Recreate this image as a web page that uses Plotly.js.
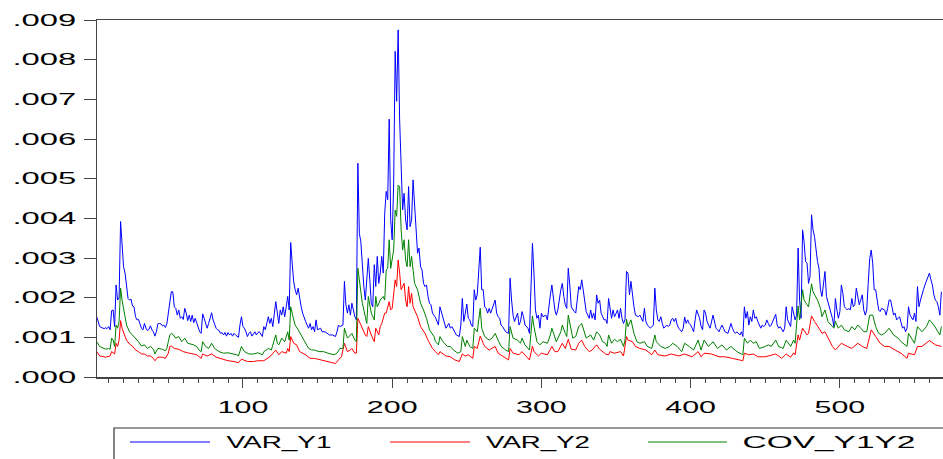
<!DOCTYPE html>
<html>
<head>
<meta charset="utf-8">
<script src="https://cdn.plot.ly/plotly-3.0.1.min.js"></script>
<style>
  html, body { margin: 0; padding: 0; background: #ffffff; }
  #chart { width: 943px; height: 459px; }
</style>
</head>
<body>
<div id="chart"></div>
<script>
const xVarY1 = [2,3,4,5,6,7,8,9,10,11,12,13,14,15,16,17,18,19,20,21,22,23,24,25,26,27,28,29,30,31,32,33,34,35,36,37,38,39,40,41,42,43,44,45,46,47,48,49,50,51,52,53,54,55,56,57,58,59,60,61,62,63,64,65,66,67,68,69,70,71,72,73,74,75,76,77,78,79,80,81,82,83,84,85,86,87,88,89,90,91,92,93,94,95,96,97,98,99,100,101,102,103,104,105,106,107,108,109,110,111,112,113,114,115,117,118,119,120,122,123,124,125,126,127,128,129,130,131,132,133,134,135,136,137,138,139,140,141,142,143,144,145,146,147,148,149,150,152,153,155,157,158,160,162,163,164,165,167,168,169,170,171,172,173,175,176,177,178,179,180,181,182,184,185,186,187,188,189,190,191,192,193,194,195,196,197,198,199,200,201,202,203,204,205,206,207,208,209,210,211,212,213,214,215,216,217,218,219,220,221,222,223,224,225,226,227,229,231,232,234,235,236,238,239,240,242,243,245,246,247,248,249,250,251,252,253,254,255,256,257,259,260,261,262,263,264,265,266,267,269,270,271,272,273,274,275,276,278,279,280,281,282,284,285,286,287,288,289,290,291,292,294,295,296,297,298,299,300,301,303,304,305,306,307,308,309,310,311,313,314,315,316,317,318,319,320,322,323,324,325,326,327,328,329,330,332,333,334,335,336,337,338,339,340,342,343,344,345,347,348,349,350,351,352,353,354,355,356,357,358,359,360,361,362,363,365,366,367,368,369,370,371,372,373,375,376,377,378,379,380,381,382,384,385,386,387,388,389,390,391,392,394,395,396,397,398,399,400,401,402,403,404,406,407,408,409,410,411,412,413,415,416,417,418,419,420,421,422,423,425,426,427,428,429,430,431,433,434,435,436,437,438,439,440,441,442,443,444,445,447,448,449,450,451,452,453,454,455,457,458,459,460,461,462,463,464,465,467,468,469,470,471,472,473,474,475,476,477,478,479,480,481,482,483,484,485,486,487,488,489,490,491,493,494,495,496,497,498,499,500,501,502,503,505,506,507,508,509,510,511,512,513,515,516,517,518,519,520,521,522,523,524,525,526,527,528,530,531,532,533,534,535,536,537,538,540,541,542,543,544,545,546,547,549,550,551,552,553,554,555,556,557,559,560,561,562,563,564,565,566,567,568];
const valVarY1 = [0.00152,0.00140,0.00127,0.00125,0.00123,0.00122,0.00124,0.00122,0.00127,0.00119,0.00167,0.00169,0.00127,0.00232,0.00194,0.00200,0.00392,0.00337,0.00278,0.00262,0.00220,0.00198,0.00194,0.00196,0.00179,0.00177,0.00152,0.00144,0.00145,0.00131,0.00123,0.00119,0.00135,0.00123,0.00117,0.00120,0.00129,0.00119,0.00114,0.00103,0.00114,0.00134,0.00135,0.00134,0.00129,0.00131,0.00125,0.00134,0.00161,0.00194,0.00215,0.00215,0.00177,0.00173,0.00156,0.00169,0.00148,0.00152,0.00145,0.00173,0.00161,0.00142,0.00156,0.00140,0.00156,0.00137,0.00148,0.00137,0.00123,0.00114,0.00110,0.00159,0.00148,0.00137,0.00123,0.00135,0.00148,0.00162,0.00144,0.00131,0.00123,0.00119,0.00117,0.00110,0.00112,0.00106,0.00112,0.00103,0.00112,0.00106,0.00110,0.00103,0.00110,0.00106,0.00102,0.00100,0.00131,0.00152,0.00127,0.00123,0.00114,0.00102,0.00110,0.00114,0.00103,0.00110,0.00114,0.00106,0.00112,0.00114,0.00106,0.00102,0.00127,0.00119,0.00152,0.00135,0.00148,0.00127,0.00190,0.00161,0.00135,0.00169,0.00156,0.00177,0.00152,0.00177,0.00203,0.00169,0.00339,0.00287,0.00240,0.00220,0.00207,0.00224,0.00198,0.00177,0.00161,0.00148,0.00140,0.00131,0.00123,0.00135,0.00119,0.00127,0.00114,0.00144,0.00119,0.00123,0.00114,0.00114,0.00110,0.00106,0.00106,0.00102,0.00114,0.00131,0.00127,0.00131,0.00241,0.00182,0.00161,0.00182,0.00156,0.00186,0.00152,0.00144,0.00539,0.00362,0.00341,0.00278,0.00228,0.00194,0.00299,0.00245,0.00186,0.00177,0.00283,0.00228,0.00304,0.00236,0.00262,0.00304,0.00262,0.00413,0.00468,0.00447,0.00650,0.00396,0.00346,0.00489,0.00821,0.00695,0.00875,0.00648,0.00497,0.00421,0.00463,0.00396,0.00371,0.00480,0.00379,0.00396,0.00497,0.00430,0.00362,0.00312,0.00325,0.00278,0.00270,0.00236,0.00228,0.00232,0.00203,0.00186,0.00182,0.00161,0.00150,0.00131,0.00177,0.00148,0.00140,0.00123,0.00135,0.00123,0.00127,0.00110,0.00106,0.00102,0.00131,0.00198,0.00140,0.00161,0.00184,0.00148,0.00144,0.00131,0.00127,0.00220,0.00194,0.00207,0.00327,0.00220,0.00220,0.00177,0.00173,0.00161,0.00173,0.00161,0.00173,0.00194,0.00161,0.00152,0.00148,0.00131,0.00127,0.00119,0.00114,0.00110,0.00249,0.00194,0.00156,0.00140,0.00161,0.00131,0.00140,0.00165,0.00152,0.00131,0.00127,0.00123,0.00110,0.00337,0.00262,0.00169,0.00148,0.00156,0.00123,0.00161,0.00152,0.00156,0.00144,0.00186,0.00207,0.00232,0.00203,0.00169,0.00156,0.00169,0.00220,0.00236,0.00203,0.00182,0.00173,0.00274,0.00232,0.00177,0.00165,0.00161,0.00194,0.00228,0.00220,0.00245,0.00220,0.00194,0.00165,0.00148,0.00169,0.00148,0.00161,0.00144,0.00207,0.00186,0.00194,0.00161,0.00144,0.00145,0.00135,0.00198,0.00148,0.00169,0.00152,0.00160,0.00169,0.00148,0.00173,0.00148,0.00135,0.00144,0.00266,0.00262,0.00207,0.00241,0.00203,0.00177,0.00156,0.00152,0.00156,0.00148,0.00140,0.00173,0.00140,0.00131,0.00127,0.00123,0.00131,0.00224,0.00169,0.00144,0.00140,0.00152,0.00135,0.00123,0.00131,0.00127,0.00131,0.00144,0.00148,0.00140,0.00148,0.00131,0.00123,0.00114,0.00123,0.00151,0.00135,0.00144,0.00135,0.00131,0.00123,0.00114,0.00144,0.00169,0.00148,0.00127,0.00119,0.00169,0.00161,0.00140,0.00131,0.00123,0.00156,0.00140,0.00123,0.00119,0.00114,0.00123,0.00131,0.00123,0.00114,0.00110,0.00123,0.00135,0.00123,0.00114,0.00110,0.00114,0.00106,0.00114,0.00102,0.00177,0.00148,0.00165,0.00131,0.00152,0.00140,0.00169,0.00148,0.00152,0.00140,0.00123,0.00131,0.00127,0.00131,0.00144,0.00135,0.00127,0.00131,0.00140,0.00158,0.00131,0.00123,0.00127,0.00119,0.00114,0.00123,0.00177,0.00144,0.00127,0.00177,0.00156,0.00144,0.00156,0.00325,0.00194,0.00148,0.00371,0.00341,0.00291,0.00287,0.00236,0.00253,0.00409,0.00371,0.00354,0.00320,0.00291,0.00274,0.00220,0.00203,0.00232,0.00266,0.00203,0.00177,0.00161,0.00148,0.00127,0.00198,0.00169,0.00148,0.00165,0.00232,0.00211,0.00177,0.00169,0.00173,0.00169,0.00198,0.00177,0.00182,0.00224,0.00207,0.00182,0.00207,0.00169,0.00156,0.00169,0.00236,0.00299,0.00320,0.00287,0.00220,0.00220,0.00194,0.00169,0.00165,0.00173,0.00169,0.00156,0.00173,0.00194,0.00194,0.00169,0.00156,0.00161,0.00144,0.00152,0.00135,0.00123,0.00127,0.00114,0.00123,0.00177,0.00156,0.00144,0.00161,0.00140,0.00228,0.00177,0.00194,0.00211,0.00220,0.00232,0.00249,0.00262,0.00245,0.00232,0.00207,0.00194,0.00190,0.00177,0.00156,0.00215];

const xVarY2 = [2,4,8,11,12,14,15,16,17,18,19,20,21,22,24,26,28,30,32,34,36,38,40,41,43,46,48,50,51,52,54,57,60,63,66,69,72,73,76,79,82,86,90,94,97,99,103,107,110,114,115,118,122,124,126,129,130,131,132,134,136,138,142,145,148,153,157,162,164,166,168,170,172,173,175,176,177,179,180,182,183,184,186,188,189,191,192,193,195,196,198,199,200,201,202,203,204,205,206,208,209,210,211,212,213,214,216,217,219,222,224,227,229,231,232,236,239,242,245,247,249,251,254,255,257,259,261,262,265,269,271,275,278,279,281,285,287,290,292,294,295,298,300,304,307,309,311,314,316,318,320,323,325,327,329,332,334,337,339,343,345,346,349,353,355,357,358,361,363,366,370,374,376,378,383,387,392,396,401,405,407,409,414,419,423,428,432,435,436,439,442,445,450,454,457,461,464,467,469,470,472,473,475,478,479,481,483,486,488,490,492,495,497,499,501,505,508,512,515,518,521,524,527,530,533,537,541,545,546,550,552,555,560,564,568];
const valVarY2 = [0.00064,0.00053,0.00050,0.00053,0.00064,0.00058,0.00085,0.00077,0.00093,0.00142,0.00123,0.00110,0.00102,0.00093,0.00083,0.00078,0.00068,0.00064,0.00058,0.00058,0.00053,0.00053,0.00047,0.00041,0.00050,0.00050,0.00047,0.00060,0.00077,0.00078,0.00072,0.00070,0.00064,0.00061,0.00058,0.00056,0.00047,0.00058,0.00053,0.00058,0.00050,0.00045,0.00041,0.00039,0.00036,0.00045,0.00039,0.00039,0.00041,0.00041,0.00043,0.00051,0.00068,0.00056,0.00064,0.00060,0.00072,0.00064,0.00102,0.00085,0.00081,0.00064,0.00056,0.00047,0.00047,0.00043,0.00039,0.00034,0.00043,0.00051,0.00085,0.00064,0.00068,0.00072,0.00060,0.00060,0.00148,0.00131,0.00123,0.00106,0.00102,0.00127,0.00106,0.00089,0.00123,0.00106,0.00127,0.00135,0.00161,0.00161,0.00190,0.00169,0.00173,0.00207,0.00245,0.00228,0.00295,0.00262,0.00220,0.00236,0.00194,0.00177,0.00228,0.00186,0.00211,0.00177,0.00161,0.00152,0.00127,0.00110,0.00093,0.00072,0.00064,0.00056,0.00064,0.00053,0.00051,0.00043,0.00039,0.00058,0.00053,0.00056,0.00047,0.00077,0.00072,0.00103,0.00085,0.00077,0.00068,0.00077,0.00060,0.00051,0.00043,0.00072,0.00060,0.00056,0.00064,0.00051,0.00043,0.00078,0.00064,0.00053,0.00060,0.00056,0.00077,0.00064,0.00064,0.00085,0.00072,0.00095,0.00070,0.00068,0.00085,0.00093,0.00077,0.00064,0.00068,0.00081,0.00070,0.00058,0.00056,0.00064,0.00060,0.00064,0.00053,0.00102,0.00093,0.00089,0.00077,0.00072,0.00068,0.00056,0.00068,0.00056,0.00053,0.00058,0.00053,0.00058,0.00051,0.00064,0.00051,0.00060,0.00058,0.00051,0.00051,0.00047,0.00043,0.00041,0.00060,0.00056,0.00058,0.00051,0.00051,0.00056,0.00058,0.00047,0.00058,0.00050,0.00061,0.00056,0.00106,0.00093,0.00123,0.00106,0.00110,0.00154,0.00140,0.00123,0.00110,0.00114,0.00098,0.00077,0.00068,0.00077,0.00085,0.00077,0.00072,0.00085,0.00077,0.00072,0.00119,0.00102,0.00085,0.00077,0.00077,0.00068,0.00060,0.00047,0.00060,0.00056,0.00077,0.00077,0.00092,0.00081,0.00077];

const xCovY1Y2 = [2,4,8,10,11,12,13,14,15,16,17,18,19,20,21,22,24,26,28,30,32,34,36,38,40,41,43,46,48,49,50,51,52,53,55,57,59,61,63,65,67,69,71,72,73,75,77,79,81,84,87,90,93,96,97,99,101,104,107,110,113,114,117,119,122,123,124,126,128,130,131,132,134,135,137,140,142,144,146,148,151,154,157,161,163,165,167,168,170,172,173,175,176,177,179,180,182,183,184,186,188,189,190,192,194,195,196,197,198,199,201,202,203,204,205,206,207,208,209,210,211,212,213,214,215,217,219,221,223,225,228,229,231,232,234,237,239,241,244,246,247,249,250,252,254,255,257,259,260,262,265,267,269,271,273,276,278,279,281,284,286,287,289,292,294,295,297,299,301,304,306,307,309,310,313,314,316,317,318,320,321,323,325,327,329,330,333,335,337,339,341,343,344,345,347,349,351,353,355,356,357,358,360,362,364,366,369,371,374,376,377,380,383,386,388,391,394,396,399,402,405,407,409,412,415,418,421,424,427,431,434,435,436,438,440,442,444,446,450,452,454,457,459,462,464,467,469,470,472,473,475,476,478,479,481,482,485,487,488,490,492,495,496,497,499,501,503,506,508,510,512,514,516,518,520,522,524,526,528,530,533,536,539,541,545,546,549,550,552,555,558,560,563,566,567,568];
const valCovY1Y2 = [0.00089,0.00077,0.00070,0.00072,0.00070,0.00098,0.00093,0.00077,0.00131,0.00123,0.00140,0.00224,0.00194,0.00169,0.00148,0.00131,0.00114,0.00106,0.00098,0.00089,0.00078,0.00081,0.00072,0.00077,0.00070,0.00058,0.00072,0.00070,0.00066,0.00072,0.00089,0.00106,0.00110,0.00108,0.00098,0.00102,0.00089,0.00098,0.00085,0.00083,0.00081,0.00077,0.00066,0.00064,0.00089,0.00077,0.00072,0.00085,0.00072,0.00064,0.00060,0.00061,0.00058,0.00056,0.00053,0.00077,0.00064,0.00058,0.00058,0.00061,0.00056,0.00064,0.00072,0.00068,0.00106,0.00085,0.00081,0.00098,0.00089,0.00114,0.00093,0.00177,0.00144,0.00131,0.00119,0.00098,0.00085,0.00072,0.00068,0.00068,0.00064,0.00064,0.00060,0.00056,0.00060,0.00072,0.00072,0.00123,0.00098,0.00106,0.00110,0.00093,0.00089,0.00274,0.00211,0.00186,0.00152,0.00135,0.00203,0.00161,0.00144,0.00203,0.00177,0.00194,0.00203,0.00194,0.00270,0.00274,0.00346,0.00274,0.00320,0.00421,0.00405,0.00484,0.00480,0.00371,0.00320,0.00346,0.00295,0.00278,0.00346,0.00278,0.00304,0.00270,0.00236,0.00220,0.00186,0.00169,0.00148,0.00119,0.00102,0.00089,0.00081,0.00102,0.00089,0.00077,0.00077,0.00068,0.00060,0.00064,0.00102,0.00077,0.00093,0.00077,0.00072,0.00123,0.00114,0.00173,0.00123,0.00102,0.00093,0.00098,0.00110,0.00093,0.00077,0.00068,0.00064,0.00127,0.00098,0.00093,0.00085,0.00098,0.00081,0.00068,0.00154,0.00127,0.00089,0.00081,0.00089,0.00085,0.00106,0.00123,0.00102,0.00089,0.00114,0.00131,0.00110,0.00102,0.00156,0.00114,0.00098,0.00102,0.00127,0.00135,0.00114,0.00098,0.00106,0.00093,0.00114,0.00106,0.00089,0.00085,0.00077,0.00106,0.00085,0.00095,0.00089,0.00095,0.00077,0.00093,0.00146,0.00127,0.00144,0.00110,0.00089,0.00085,0.00089,0.00077,0.00072,0.00106,0.00089,0.00077,0.00072,0.00077,0.00085,0.00077,0.00064,0.00085,0.00077,0.00068,0.00093,0.00068,0.00093,0.00077,0.00089,0.00072,0.00081,0.00068,0.00077,0.00064,0.00058,0.00056,0.00098,0.00085,0.00093,0.00085,0.00089,0.00072,0.00077,0.00081,0.00077,0.00093,0.00077,0.00072,0.00093,0.00077,0.00093,0.00085,0.00179,0.00144,0.00220,0.00194,0.00182,0.00177,0.00235,0.00215,0.00194,0.00173,0.00152,0.00169,0.00140,0.00127,0.00123,0.00140,0.00123,0.00131,0.00119,0.00114,0.00127,0.00119,0.00131,0.00123,0.00114,0.00114,0.00156,0.00156,0.00127,0.00110,0.00106,0.00110,0.00123,0.00106,0.00098,0.00089,0.00077,0.00110,0.00093,0.00085,0.00127,0.00114,0.00127,0.00144,0.00131,0.00114,0.00106,0.00127];

const seriesNames = ['VAR_Y1', 'VAR_Y2', 'COV_Y1Y2'];
const seriesColors = ['#0000ff', '#ff0000', '#008000'];
const yTickVals = [0, 0.001, 0.002, 0.003, 0.004, 0.005, 0.006, 0.007, 0.008, 0.009];
const yTickText = ['.000', '.001', '.002', '.003', '.004', '.005', '.006', '.007', '.008', '.009'];

// ---- figure ----
const xs = [xVarY1, xVarY2, xCovY1Y2];
const ys = [valVarY1, valVarY2, valCovY1Y2];
const traces = seriesNames.map((n, i) => ({
  x: xs[i], y: ys[i], name: n, type: 'scatter', mode: 'lines',
  line: { color: seriesColors[i], width: 1 }, showlegend: false, hoverinfo: 'skip'
}));

const axisFont = { family: 'Liberation Sans, Arial, sans-serif', size: 16, color: '#000' };
const W = 943, H = 459, ML = 97, MR = 0, MT = 20, MB = 82;
const pw = W - ML - MR, ph = H - MT - MB;
const px2x = p => (p - ML) / pw;
const py2y = p => (H - MB - p) / ph;

// hand-drawn legend (box cut at the right/bottom edge like the reference)
const legLine = [[130, 210], [390, 470], [648, 727]];
const legTextSpan = [[226, 331], [486, 590], [742, 915]];
const legY = 442;
const shapes = [{
  type: 'rect', xref: 'paper', yref: 'paper',
  x0: px2x(114), x1: px2x(990), y0: py2y(428), y1: py2y(490),
  line: { color: '#333', width: 1.2 }, fillcolor: 'rgba(0,0,0,0)'
}];
const annotations = [];
seriesNames.forEach((n, i) => {
  shapes.push({ type: 'line', xref: 'paper', yref: 'paper',
    x0: px2x(legLine[i][0]), x1: px2x(legLine[i][1]), y0: py2y(legY), y1: py2y(legY),
    line: { color: seriesColors[i], width: 1 } });
  annotations.push({ xref: 'paper', yref: 'paper',
    x: px2x((legTextSpan[i][0] + legTextSpan[i][1]) / 2), y: py2y(legY),
    xanchor: 'center', yanchor: 'middle', text: n, showarrow: false,
    font: { family: 'Liberation Sans, Arial, sans-serif', size: 17, color: '#000' } });
});

const layout = {
  width: W, height: H,
  margin: { l: ML, r: MR, t: MT, b: MB, pad: 0 },
  paper_bgcolor: '#fff', plot_bgcolor: '#fff',
  showlegend: false,
  xaxis: {
    range: [2.2, 569.1], showgrid: false, zeroline: false,
    showline: true, linecolor: '#444', linewidth: 1.5, mirror: true,
    tickmode: 'linear', tick0: 0, dtick: 100,
    ticks: 'outside', ticklen: 9, tickwidth: 1, tickcolor: '#444',
    minor: { tickmode: 'linear', tick0: 0, dtick: 10, ticks: 'outside', ticklen: 4, tickwidth: 1, tickcolor: '#444' },
    tickfont: axisFont, ticklabelstandoff: 6
  },
  yaxis: {
    range: [0, 0.009], showgrid: false, zeroline: false,
    showline: true, linecolor: '#444', linewidth: 1.5,
    tickmode: 'array', tickvals: yTickVals, ticktext: yTickText,
    ticks: 'outside', ticklen: 12, tickwidth: 1, tickcolor: '#444',
    tickfont: axisFont, ticklabelstandoff: 4
  },
  shapes: shapes,
  annotations: annotations
};

function stretchText(selector, factor) {
  document.querySelectorAll(selector).forEach(t => {
    const w = t.getComputedTextLength();
    if (w > 0) {
      t.setAttribute('textLength', (w * factor).toFixed(1));
      t.setAttribute('lengthAdjust', 'spacingAndGlyphs');
    }
  });
}

Plotly.newPlot('chart', traces, layout, { staticPlot: true, displayModeBar: false }).then(() => {
  // the reference's lettering is horizontally stretched
  stretchText('.ytick text', 2.05);
  stretchText('.xtick text', 1.9);
  document.querySelectorAll('.annotation-text').forEach((t, i) => {
    const span = legTextSpan[i];
    if (span) {
      t.setAttribute('textLength', String(span[1] - span[0]));
      t.setAttribute('lengthAdjust', 'spacingAndGlyphs');
    }
  });
});
</script>
</body>
</html>
